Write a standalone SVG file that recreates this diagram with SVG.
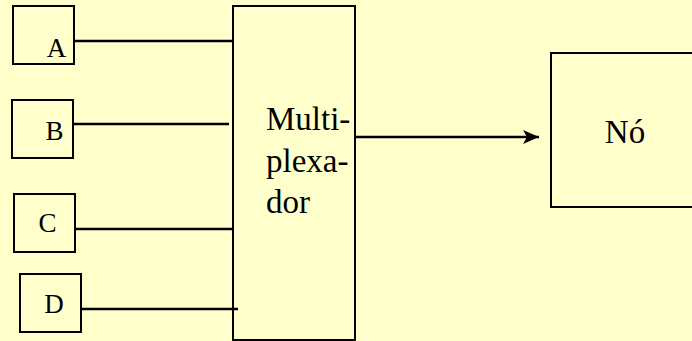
<svg xmlns="http://www.w3.org/2000/svg" width="692" height="341" viewBox="0 0 692 341">
<style>
.box{fill:#FFFFCC;stroke:#000;stroke-width:2}
.ln{stroke:#000;stroke-width:2.5;fill:none}
.lbl{font-size:27px;fill:#000;text-anchor:middle}
.big{font-size:33px;fill:#000}
</style>
<defs>
<marker id="arr" markerUnits="userSpaceOnUse" markerWidth="20" markerHeight="18" refX="16" refY="8" orient="auto">
<path d="M16,8 L0,1 L4,8 L0,15 Z" fill="#000"/>
</marker>
</defs>
<rect width="692" height="341" fill="#FFFFCC"/>
<g id="connectors">
<line class="ln" x1="74" y1="41" x2="233" y2="41"/>
<line class="ln" x1="73" y1="124" x2="229" y2="124"/>
<line class="ln" x1="75" y1="229" x2="233" y2="229"/>
<line class="ln" x1="81" y1="309" x2="238" y2="309"/>
<line class="ln" x1="355" y1="137" x2="539" y2="137" marker-end="url(#arr)"/>
</g>
<g font-family="'Liberation Serif', 'Times New Roman', 'DejaVu Serif', serif">
<g id="nodeA"><rect class="box" x="13" y="6" width="61" height="58"/><text class="lbl" x="56.5" y="57">A</text></g>
<g id="nodeB"><rect class="box" x="12" y="100" width="61" height="58"/><text class="lbl" x="54.5" y="140">B</text></g>
<g id="nodeC"><rect class="box" x="14" y="194" width="61" height="58"/><text class="lbl" x="47.5" y="232">C</text></g>
<g id="nodeD"><rect class="box" x="20" y="274" width="61" height="58"/><text class="lbl" x="54" y="313">D</text></g>
<g id="mux"><rect class="box" x="233" y="6" width="122" height="334" style="fill:none"/>
<text class="big" x="266" y="130">Multi-</text>
<text class="big" x="266" y="171.5">plexa-</text>
<text class="big" x="266" y="213">dor</text></g>
<g id="no"><rect class="box" x="551" y="53" width="160" height="154"/><text class="big" x="625" y="143" text-anchor="middle">Nó</text></g>
</g>
</svg>
